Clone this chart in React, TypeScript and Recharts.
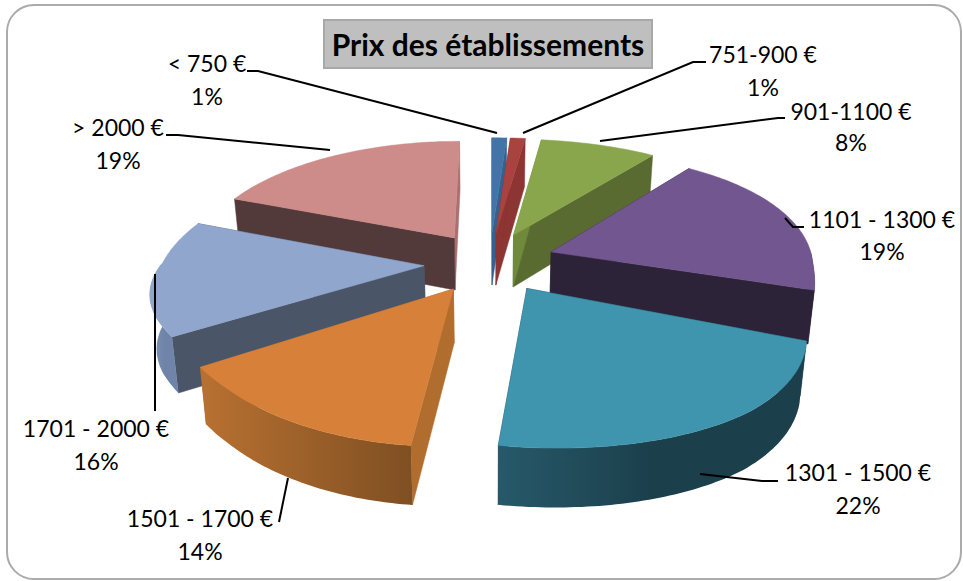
import React from "react";
import { PieChart, Pie } from "recharts";

const categories = ["< 750 €", "751-900 €", "901-1100 €", "1101 - 1300 €", "1301 - 1500 €", "1501 - 1700 €", "1701 - 2000 €", "> 2000 €"];
const values = [1, 1, 8, 19, 22, 14, 16, 19];
const data = categories.map((name, i) => ({ name, value: values[i] }));

const topColors = ["#4374a8", "#a84340", "#8aa64c", "#72568f", "#3f95ae", "#d7803a", "#90a6cd", "#cd8b8a"];
const startWalls = ["#35608f", "#8c3533", "#6f8a3a", "#2d2339", "#1a3d48", "#b06d2d", "#4a5568", "#533a3a"];
const endWalls = ["#35608f", "#8c3533", "#5a6b32", "#2d2339", "#1a3d48", "#b06d2d", "#4a5568", "#a87070"];
const rimLeft = ["#35608f", "#8c3533", "#5a6b32", "#2d2339", "#27596a", "#b87131", "#8497bb", "#533a3a"];
const rimRight = ["#35608f", "#8c3533", "#5a6b32", "#2d2339", "#1b3f4b", "#7f4f22", "#6f84a8", "#533a3a"];

// Label layout: text centre x, first baseline, second baseline, leader points
const labelLayout = [
  { x: 207, y1: 72, y2: 105, line: "247,71 258,71 497,133" },
  { x: 763, y1: 63, y2: 96, line: "706,62 693,62 523,133" },
  { x: 851, y1: 120, y2: 151, line: "785,118 778,118 600,141" },
  { x: 882, y1: 228, y2: 260, line: "804,227 793,227 785,218" },
  { x: 858, y1: 481, y2: 514, line: "778,481 762,481 700,474" },
  { x: 200, y1: 527, y2: 560, line: "279,522 288,478" },
  { x: 96, y1: 437, y2: 470, line: "155,411 155,274" },
  { x: 118, y1: 136, y2: 169, line: "166,135 178,135 330,150" },
];

const PERSPECTIVE = 0.17;
const SQUASH = 0.46;
const EXPLODE = 0.25;
const FONT = "Lato, 'Noto Sans', sans-serif";
const REAR = [0, 1, 2, 7];
const MIDDLE = [3, 6];
const FRONT = [4, 5];
const clamp01 = (t: number) => Math.min(1, Math.max(0, t));

function makeShape(indices: number[]) {
  return function SliceShape(props: any) {
    const { cx, cy, outerRadius: R, startAngle, endAngle, index } = props;
    if (!indices.includes(index)) return <g />;
    const a0 = 90 - startAngle;
    const a1 = 90 - endAngle;
    const mid = (((a0 + a1) / 2) * Math.PI) / 180;
    const ou = EXPLODE * Math.sin(mid);
    const ov = EXPLODE * Math.cos(mid);
    const top = (u: number, v: number) => {
      const ut = u + ou;
      const vt = v + ov;
      const s = 1 / (1 + PERSPECTIVE * vt);
      return [
        cx +
          R * ut * s -
          18 * Math.max(0, -vt) * Math.max(0, 1 - Math.abs(ut) * 1.2) +
          16 * Math.max(0, ut) * Math.max(0, vt) -
          8 * Math.max(0, -ut) * clamp01(-vt * 2),
        cy -
          SQUASH * R * vt * s +
          20 * Math.max(0, ut) * clamp01(-vt * 2) -
          8 * Math.max(0, -ut) * clamp01(-vt * 2),
        s,
      ];
    };
    const bottom = (u: number, v: number) => {
      const [x, y, s] = top(u, v);
      return [cx + (x - cx) * 0.98, y + 53 * Math.pow(s, 0.5), s];
    };
    const polar = (deg: number) => [Math.sin((deg * Math.PI) / 180), Math.cos((deg * Math.PI) / 180)];
    const path = (pts: number[][]) => "M" + pts.map((p) => `${p[0].toFixed(1)},${p[1].toFixed(1)}`).join("L") + "Z";

    const steps = Math.max(2, Math.ceil(a1 - a0));
    const arc: number[] = [];
    for (let k = 0; k <= steps; k++) arc.push(a0 + ((a1 - a0) * k) / steps);
    const topArc = arc.map((d) => top(polar(d)[0], polar(d)[1]));
    const rimArc = arc.filter((d) => polar(d)[1] <= 0.02);
    const rimPts = [
      ...rimArc.map((d) => top(polar(d)[0], polar(d)[1])),
      ...rimArc.slice().reverse().map((d) => bottom(polar(d)[0], polar(d)[1])),
    ];
    const wall = (deg: number) => {
      const [u, v] = polar(deg);
      return [top(0, 0), top(u, v), bottom(u, v), bottom(0, 0)];
    };
    const gid = `rim-${index}`;
    return (
      <g>
        <defs>
          <linearGradient id={gid} x1="0" y1="0" x2="1" y2="0">
            <stop offset="0" stopColor={rimLeft[index]} />
            <stop offset={index === 5 ? "1" : "0.5"} stopColor={rimRight[index]} />
            <stop offset="1" stopColor={rimRight[index]} />
          </linearGradient>
        </defs>
        <path d={path(wall(a1))} fill={endWalls[index]} stroke={endWalls[index]} strokeWidth={0.5} />
        <path d={path(wall(a0))} fill={startWalls[index]} stroke={startWalls[index]} strokeWidth={0.5} />
        {rimPts.length > 2 && <path d={path(rimPts)} fill={`url(#${gid})`} />}
        <path d={path([top(0, 0), ...topArc])} fill={topColors[index]} stroke={topColors[index]} strokeWidth={0.5} />
      </g>
    );
  };
}

function renderLabel(props: any) {
  const { index } = props;
  const l = labelLayout[index];
  return (
    <g>
      <polyline points={l.line} fill="none" stroke="#000" strokeWidth={2} />
      <text x={l.x} y={l.y1} textAnchor="middle" fontSize={23} fontFamily={FONT} fill="#000">
        {categories[index]}
      </text>
      <text x={l.x} y={l.y2} textAnchor="middle" fontSize={23} fontFamily={FONT} fill="#000">
        {values[index]}%
      </text>
    </g>
  );
}

export default function App() {
  const common = {
    data,
    dataKey: "value",
    nameKey: "name",
    cx: 490,
    cy: 262,
    innerRadius: 0,
    outerRadius: 262,
    startAngle: 90,
    endAngle: -270,
    paddingAngle: 0,
    isAnimationActive: false,
    stroke: "none",
  };
  return (
    <div style={{ position: "absolute", left: 0, top: 0, width: 963, height: 581, background: "#fff", overflow: "hidden" }}>
      <div style={{ position: "absolute", left: 6, top: 4, width: 952, height: 572, border: "2.5px solid #ababab", borderRadius: 28 }} />
      <div style={{ position: "absolute", left: 0, top: 0 }}>
        <PieChart width={963} height={581} margin={{ top: 0, right: 0, bottom: 0, left: 0 }}>
          <Pie {...common} shape={makeShape(REAR)} label={false} labelLine={false} />
          <Pie {...common} shape={makeShape(MIDDLE)} label={false} labelLine={false} />
          <Pie {...common} shape={makeShape(FRONT)} label={renderLabel} labelLine={false} />
        </PieChart>
      </div>
      <div
        style={{
          position: "absolute",
          left: 323,
          top: 19,
          width: 326,
          height: 46,
          background: "#bfbfbf",
          border: "2px solid #a8a8a8",
          textAlign: "center",
          font: `bold 30px ${FONT}`,
          lineHeight: "46px",
          color: "#000",
        }}
      >
        Prix des établissements
      </div>
    </div>
  );
}
